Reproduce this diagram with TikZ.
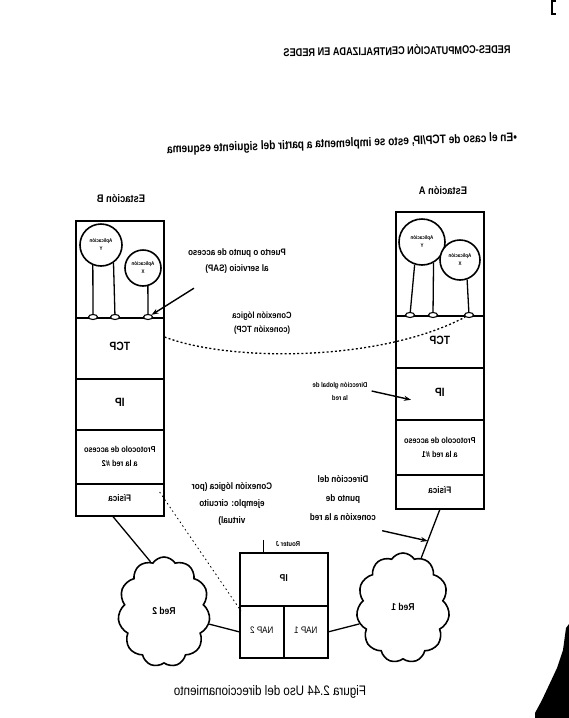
\documentclass[tikz,border=0pt]{standalone}
\usepackage{fontspec}
\setmainfont{Liberation Sans}
\usepackage{graphicx}
\usetikzlibrary{shapes.geometric,shapes.symbols,arrows.meta,calc}
\newcommand{\fs}[2]{\fontsize{#1}{#2}\selectfont}
\newcommand{\mir}[1]{\scalebox{-0.85}[1]{\begin{tabular}{@{}c@{}}#1\end{tabular}}}
\begin{document}
\begin{tikzpicture}[x=1pt,y=-1pt,
  sec/.style={draw, line width=1.6pt, inner sep=0pt, minimum width=88pt, anchor=north west, font=\bfseries},
  circ/.style={circle, draw, line width=1.6pt, fill=white, inner sep=0pt, font=\bfseries},
  port/.style={ellipse, draw, line width=1.1pt, fill=white, minimum width=9pt, minimum height=5pt, inner sep=0pt},
  ln/.style={line width=1.3pt},
  lbl/.style={inner sep=0pt, font=\bfseries},
  arr/.style={line width=1.4pt, -{Stealth[length=7pt,width=5pt]}},
  dotline/.style={line width=1.3pt, dash pattern=on 2pt off 2.2pt},
  thindot/.style={line width=0.8pt, dash pattern=on 1.5pt off 3pt},
  cloudst/.style={cloud, draw, line width=1.6pt, cloud puffs=11, cloud puff arc=115, aspect=0.85, inner sep=0pt, font=\bfseries}]
\fill[white] (0,0) rectangle (569,718);
\useasboundingbox (0,0) rectangle (569,718);

% header lines
\node[inner sep=0pt, rotate=0.8] (H1) at (397,50) {\resizebox{227pt}{10pt}{\reflectbox{\bfseries REDES-COMPUTACIÓN CENTRALIZADA EN REDES}}};
\node[inner sep=0pt, rotate=2] (H2) at (342,144) {\resizebox{350pt}{9pt}{\reflectbox{\bfseries •En el caso de TCP/IP, esto se implementa a partir del siguiente esquema}}};

% Station B
\node[lbl] (EB) at (121,200) {\fs{11}{11}\mir{Estación B}};
\node[sec, minimum height=97pt] (Bapp) at (75,220) {};
\node[sec, minimum height=61pt] (Btcp) at (75,317) {\fs{12}{12}\mir{TCP}};
\node[sec, minimum height=51pt] (Bip) at (75,378) {\fs{12}{12}\mir{IP}};
\node[sec, minimum height=54pt] (Bnap) at (75,429) {\fs{8.6}{14}\mir{Protocolo de acceso\\a la red \#2}};
\node[sec, minimum height=32pt] (Bfis) at (75,483) {\fs{9.5}{10}\mir{Física}};
\node[circ, minimum size=42pt] (Bc1) at (101,245) {\fs{5.3}{8}\mir{Aplicación\\Y}};
\node[circ, minimum size=36pt] (Bc2) at (143,268) {\fs{5.3}{8}\mir{Aplicación\\X}};
\draw[ln] (Bc1.248) -- (93,317) coordinate (Bq1);
\draw[ln] (Bc1.305) -- (115,317) coordinate (Bq2);
\draw[ln] (Bc2.285) -- (148,317) coordinate (Bq3);
\node[port] (Bp1) at (Bq1) {};
\node[port] (Bp2) at (Bq2) {};
\node[port] (Bp3) at (Bq3) {};

% Station A
\node[lbl] (EA) at (443,192) {\fs{11}{11}\mir{Estación A}};
\node[sec, minimum height=104pt] (Aapp) at (395,211) {};
\node[sec, minimum height=52pt] (Atcp) at (395,315) {\fs{12}{12}\mir{TCP}};
\node[sec, minimum height=52pt] (Aip) at (395,367) {\fs{12}{12}\mir{IP}};
\node[sec, minimum height=55pt] (Anap) at (395,419) {\fs{8.6}{14}\mir{Protocolo de acceso\\a la red \#1}};
\node[sec, minimum height=34pt] (Afis) at (395,474) {\fs{9.5}{10}\mir{Física}};
\node[circ, minimum size=46pt] (Ac1) at (422,242) {\fs{5.3}{8}\mir{Aplicación\\Y}};
\node[circ, minimum size=40pt] (Ac2) at (460,260) {\fs{5.3}{8}\mir{Aplicación\\X}};
\draw[ln] (Ac1.252) -- (410,315) coordinate (Aq1);
\draw[ln] (Ac1.299) -- (433,315) coordinate (Aq2);
\draw[ln] (Ac2.290) -- (469,315) coordinate (Aq3);
\node[port] (Ap1) at (Aq1) {};
\node[port] (Ap2) at (Aq2) {};
\node[port] (Ap3) at (Aq3) {};

% Router
\node[sec, minimum height=53pt] (Rip) at (239,552) {\fs{10}{10}\mir{IP}};
\node[sec, minimum width=44pt, minimum height=52pt, font=\mdseries] (Rn2) at (239,605) {\fs{9.5}{10}\mir{NAP 2}};
\node[sec, minimum width=44pt, minimum height=52pt, font=\mdseries] (Rn1) at (283,605) {\fs{9.5}{10}\mir{NAP 1}};
\node[lbl] (RJ) at (288,545) {\fs{7}{7}\mir{Router J}};
\draw[line width=1pt] ($(Rip.north west)+(24,0)$) -- ++(0,-12);

% Clouds
\node[cloudst, minimum width=92pt, minimum height=110pt] (Red2) at (164,612) {\fs{10}{10}\mir{Red 2}};
\node[cloudst, minimum width=93pt, minimum height=110pt] (Red1) at (403,608) {\fs{10}{10}\mir{Red 1}};

% physical links
\draw[ln] ($(Bfis.south west)+(38,0)$) -- (Red2.105);
\draw[ln] (Red2.-15) -- (Rn2.west);
\draw[ln] (Rn1.east) -- (Red1.200);
\draw[ln] (Afis.south) -- (Red1.70) coordinate[pos=0.65] (Apt);

% logical connections
\draw[dotline] ($(Btcp.north east)+(0,20)$) .. controls (230,362) and (380,362) .. (Ap3);
\draw[thindot] ($(Bfis.north east)+(-5,9)$) -- ($(Rn2.north west)+(2,6)$);

% labels
\node[lbl] (Lsap) at (237,260) {\fs{9.4}{16}\mir{Puerto o punto de acceso\\al servicio (SAP)}};
\draw[arr] ($(Lsap.south west)+(6,12)$) -- (Bp3.north east);
\node[lbl] (Ltcp) at (262,323) {\fs{9}{14}\mir{Conexión lógica\\(conexión TCP)}};
\node[lbl] (Lgl) at (340,391) {\fs{7}{13}\mir{Dirección global de\\la red}};
\draw[arr] (Lgl.east) ++(4,0) -- ($(Aip.west)+(16,6)$);
\node[lbl] (Lpc) at (343,498) {\fs{9.5}{19}\mir{Dirección del\\punto de\\conexión a la red}};
\draw[arr] ($(Lpc.south east)+(6,4)$) -- (Apt);
\node[lbl] (Lvc) at (232,503) {\fs{9.5}{17}\mir{Conexión lógica (por\\ejemplo: circuito\\virtual)}};

% caption
\node[inner sep=0pt] (Cap) at (270,692) {\resizebox{192pt}{10pt}{\reflectbox{Figura 2.44 Uso del direccionamiento}}};

% scan artefacts
\draw[line width=1.2pt] (556,1) -- (552,1) -- (552,14) -- (556,14);
\fill[black] (569,624) -- (566,628) -- (563,650) -- (557,668) -- (550,683) -- (542,700) -- (535,713) -- (535,718) -- (569,718) -- cycle;
\end{tikzpicture}
\end{document}
